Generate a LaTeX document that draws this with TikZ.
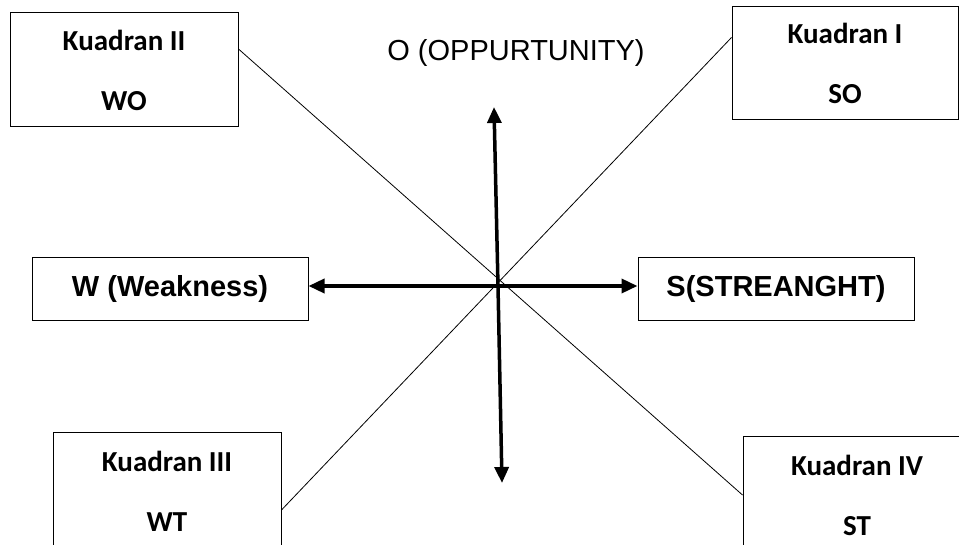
\documentclass[tikz,border=0pt]{standalone}
\usepackage{fontspec}
\setmainfont{Liberation Sans}
\newfontfamily\quadfont{Carlito}
\usetikzlibrary{arrows.meta}

\begin{document}
\begin{tikzpicture}[x=1pt, y=-1pt,
  quadbox/.style={draw, line width=1pt, minimum width=228pt, minimum height=114pt, align=center, font=\quadfont\bfseries\fontsize{29}{60}\selectfont},
  axisbox/.style={draw, line width=1pt, minimum width=276pt, minimum height=63pt, font=\bfseries\fontsize{29}{34}\selectfont},
  axis/.style={line width=3.5pt, -{Triangle[length=16pt,width=14pt]}},
  diag/.style={line width=0.8pt}]
\useasboundingbox[fill=white] (0,0) rectangle (959,545);

% Nodes
\node[quadbox] (kii) at (124,70) {Kuadran II\\WO};
\node[quadbox, minimum width=226pt, minimum height=113pt] (ki) at (845,63.5) {Kuadran I\\SO};
\node[quadbox, minimum height=118pt] (kiii) at (167,491) {Kuadran III\\WT};
\node[quadbox, minimum height=118pt] (kiv) at (857,495) {Kuadran IV\\ST};
\node[axisbox] (w) at (170,289) {W (Weakness)};
\node[axisbox] (s) at (776,289) {S(STREANGHT)};
\node[font=\fontsize{29}{34}\selectfont] (o) at (516,53) {O (OPPURTUNITY)};
\coordinate (c) at (498,286);
\coordinate (otip) at (494,107);
\coordinate (ttip) at (502,483);

% Lines
\draw[diag] ([yshift=21pt]kii.east) -- (kiv.west);
\draw[diag] ([yshift=26pt]ki.west) -- ([yshift=-19pt]kiii.east);

% Arrows
\draw[axis] (c) -- (otip);
\draw[axis] (c) -- (ttip);
\draw[axis] (c) -- (c -| w.east);
\draw[axis] (c) -- (c -| s.west);

\end{tikzpicture}
\end{document}
